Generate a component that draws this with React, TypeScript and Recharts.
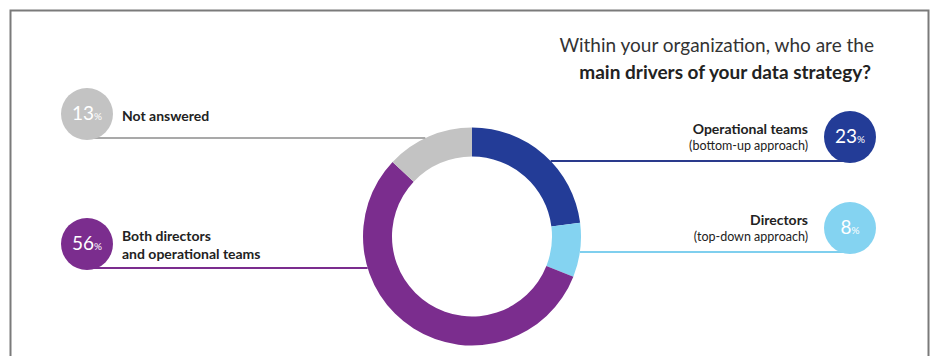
import React from 'react';
import { PieChart, Pie, Cell, Customized } from 'recharts';

const categories = ['Operational teams', 'Directors', 'Both directors and operational teams', 'Not answered'];
const shares = [23, 8, 56, 13];
const labelMain = [['Operational teams'], ['Directors'], ['Both directors', 'and operational teams'], ['Not answered']];
const labelSub = ['(bottom-up approach)', '(top-down approach)', '', ''];
const titleLines = ['Within your organization, who are the', 'main drivers of your data strategy?'];

const sliceColors = ['#233c97', '#84d3f1', '#7b2d8e', '#c3c3c3'];
const leaderColors = ['#2a3a8c', '#7fcfee', '#7b2d8e', '#a9a9a9'];
const calloutLayout = [
  { side: 'right', x: 850, y: 137 },
  { side: 'right', x: 850, y: 228 },
  { side: 'left', x: 87, y: 244 },
  { side: 'left', x: 87, y: 114 },
];

const data = categories.map((name, i) => ({ name, value: shares[i] }));

const FONT = 'Lato, "Open Sans", sans-serif';

const renderCallout = (props: any) => {
  const { cx, cy, outerRadius, index } = props;
  const lay = calloutLayout[index];
  const lineY = lay.y + 24;
  const dy = lineY - cy;
  const dx = Math.sqrt(Math.max(0, outerRadius * outerRadius - dy * dy));
  const arcX = lay.side === 'left' ? cx - dx : cx + dx;
  const main = labelMain[index];
  const sub = labelSub[index];
  const isLeft = lay.side === 'left';
  const tx = isLeft ? 122 : 808;
  const anchor = isLeft ? 'start' : 'end';
  let lines: { t: string; bold: boolean }[] = main.map((t) => ({ t, bold: true }));
  if (sub) lines.push({ t: sub, bold: false });
  const baseY = isLeft ? (lines.length === 1 ? lay.y + 7 : lay.y - 3) : lay.y - 3;
  const step = isLeft ? 18 : 16;
  return (
    <g key={`callout-${index}`}>
      <line x1={lay.x} y1={lineY} x2={arcX} y2={lineY} stroke={leaderColors[index]} strokeWidth={2} />
      <circle cx={lay.x} cy={lay.y} r={26} fill={sliceColors[index]} />
      <text x={lay.x} y={lay.y + 6} textAnchor="middle" fill="#ffffff" fontFamily={FONT}>
        <tspan fontSize={19}>{shares[index]}</tspan>
        <tspan fontSize={10}>%</tspan>
      </text>
      {lines.map((l, k) => (
        <text
          key={k}
          x={tx}
          y={baseY + k * step}
          textAnchor={anchor}
          fill="#222222"
          fontFamily={FONT}
          fontSize={l.bold ? 14 : 12.5}
          fontWeight={l.bold ? 700 : 400}
        >
          {l.t}
        </text>
      ))}
    </g>
  );
};

const Decorations = () => (
  <g>
    <rect x={10.5} y={10.5} width={918} height={420} fill="none" stroke="#7a7a7a" strokeWidth={2} />
    <text x={874} y={52} textAnchor="end" fill="#333333" fontFamily={FONT} fontSize={19}>
      {titleLines[0]}
    </text>
    <text x={871} y={79} textAnchor="end" fill="#222222" fontFamily={FONT} fontSize={19} fontWeight={700}>
      {titleLines[1]}
    </text>
  </g>
);

export default function App() {
  return (
    <div style={{ position: 'absolute', left: 0, top: 0, width: 933, height: 356, background: '#ffffff' }}>
      <PieChart width={933} height={356} margin={{ top: 0, right: 0, bottom: 0, left: 0 }}>
        <Customized component={<Decorations />} />
        <Pie
          data={data}
          dataKey="value"
          nameKey="name"
          cx={472}
          cy={236.5}
          innerRadius={80}
          outerRadius={109}
          startAngle={90}
          endAngle={-270}
          stroke="none"
          isAnimationActive={false}
          label={renderCallout}
          labelLine={false}
        >
          {data.map((d, i) => (
            <Cell key={d.name} fill={sliceColors[i]} />
          ))}
        </Pie>
      </PieChart>
    </div>
  );
}
